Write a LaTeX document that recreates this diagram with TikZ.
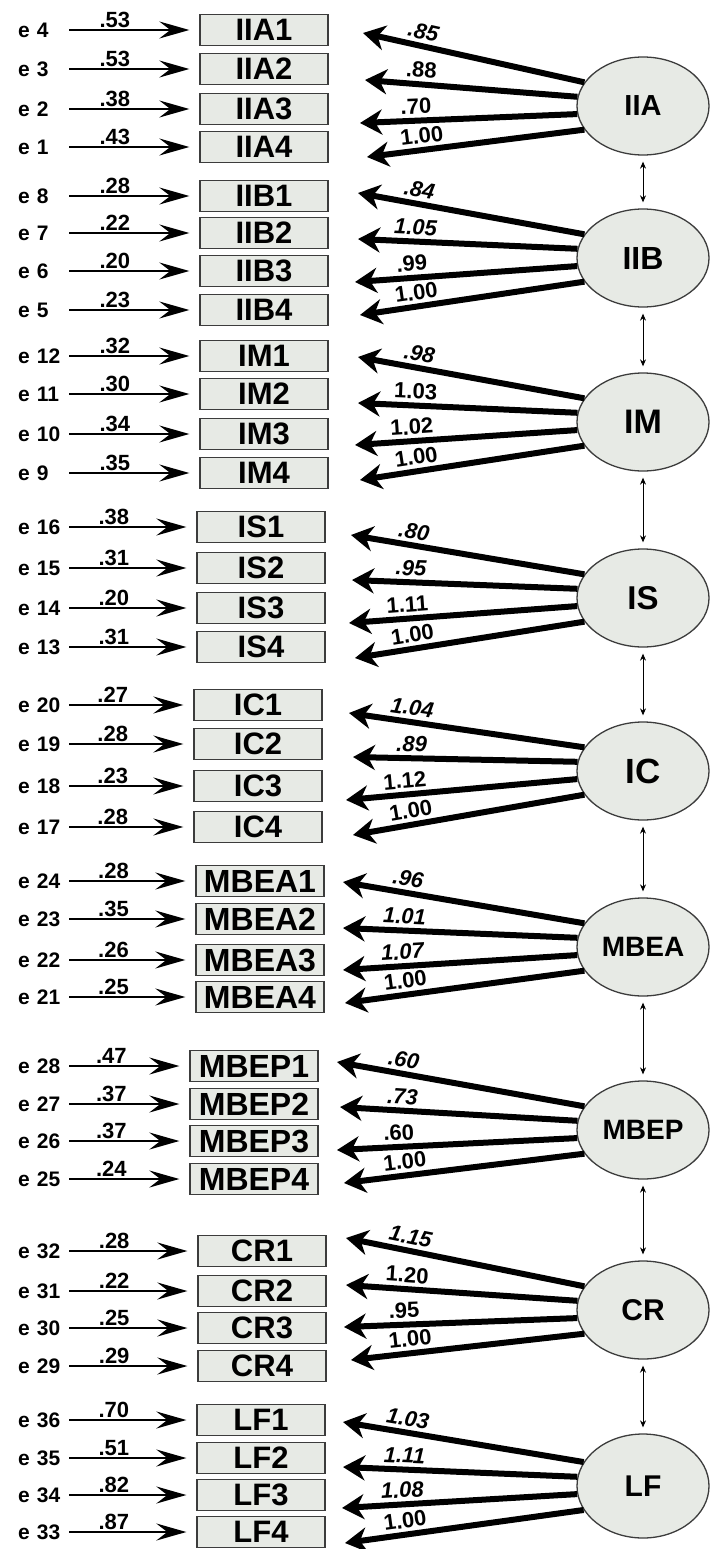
\documentclass[tikz,border=0pt]{standalone}
\usepackage{fontspec}
\setmainfont{Liberation Sans}
\usepackage{tikz}
\usetikzlibrary{positioning,calc,shapes.geometric}
\usetikzlibrary{arrows.meta}
\definecolor{boxfill}{RGB}{231,234,229}
\definecolor{boxline}{RGB}{60,60,60}

\begin{document}
\begin{tikzpicture}[x=1pt,y=-1pt,
    fsize/.style={font=\bfseries\fontsize{#1}{#1}\selectfont},
    item/.style={rectangle,draw=boxline,line width=1.3pt,fill=boxfill,minimum width=128pt,minimum height=31pt,inner sep=0pt,fsize=31},
    factor/.style={ellipse,draw=boxline,line width=1.3pt,fill=boxfill,minimum width=132pt,minimum height=98pt,inner sep=0pt},
    errlab/.style={anchor=west,text width=51pt,align=left,inner sep=0pt,fsize=21},
    num/.style={inner sep=1pt,fsize=22},
    err/.style={draw,line width=2.2pt,-{Stealth[length=30pt,width=17pt,inset=11pt]},shorten >=10pt},
    load/.style={draw,line width=6pt,-{Stealth[length=22pt,width=25pt,inset=7pt]}},
    corr/.style={draw,line width=1pt,{Stealth[length=7pt,width=6pt]}-{Stealth[length=7pt,width=6pt]},shorten <=6pt,shorten >=6pt}]
\useasboundingbox (0,0) rectangle (710,1549);

% IIA
\node[factor,fsize=29] (IIA) at (643,106) {IIA};
\foreach \i/\y/\e/\v/\tx/\ty/\l in {1/30/4/.53/363/33/\textit{.85},2/69/3/.53/365/80/.88,3/109/2/.38/360/123/.70,4/147/1/.43/367/157/1.00}{
    \node[item] (IIA\i) at (264,\y) {IIA\i};
    \node[errlab] (e\e) at (18,\y) {e \e};
    \draw[err] (e\e) -- (IIA\i) node[num,pos=.35,above] {\v};
    \coordinate (IIA t\i) at (\tx,\ty);
    \pgfmathtruncatemacro\a{158+14.7*(\i-1)}
    \draw[load] (IIA.\a) -- (IIA t\i) node[num,pos=.74,sloped,above=2.5pt] {\l};
}

% IIB
\node[factor,fsize=32] (IIB) at (643,258) {IIB};
\foreach \i/\y/\e/\v/\tx/\ty/\l in {1/196/8/.28/358/193/\textit{.84},2/233/7/.22/358/239/\textit{1.05},3/271/6/.20/355/282/.99,4/310/5/.23/360/315/1.00}{
    \node[item] (IIB\i) at (264,\y) {IIB\i};
    \node[errlab] (e\e) at (18,\y) {e \e};
    \draw[err] (e\e) -- (IIB\i) node[num,pos=.35,above] {\v};
    \coordinate (IIB t\i) at (\tx,\ty);
    \pgfmathtruncatemacro\a{158+14.7*(\i-1)}
    \draw[load] (IIB.\a) -- (IIB t\i) node[num,pos=.74,sloped,above=2.5pt] {\l};
}

% IM
\node[factor,fsize=34] (IM) at (643,422) {IM};
\foreach \i/\y/\e/\v/\tx/\ty/\l in {1/356/12/.32/358/357/\textit{.98},2/394/11/.30/358/403/1.03,3/434/10/.34/355/445/1.02,4/473/9/.35/360/480/1.00}{
    \node[item] (IM\i) at (264,\y) {IM\i};
    \node[errlab] (e\e) at (18,\y) {e \e};
    \draw[err] (e\e) -- (IM\i) node[num,pos=.35,above] {\v};
    \coordinate (IM t\i) at (\tx,\ty);
    \pgfmathtruncatemacro\a{158+14.7*(\i-1)}
    \draw[load] (IM.\a) -- (IM t\i) node[num,pos=.74,sloped,above=2.5pt] {\l};
}

% IS
\node[factor,fsize=33] (IS) at (643,598) {IS};
\foreach \i/\y/\e/\v/\tx/\ty/\l in {1/527/16/.38/351/535/\textit{.80},2/568/15/.31/352/580/\textit{.95},3/608/14/.20/349/623/1.11,4/647/13/.31/355/658/1.00}{
    \node[item] (IS\i) at (261,\y) {IS\i};
    \node[errlab] (e\e) at (18,\y) {e \e};
    \draw[err] (e\e) -- (IS\i) node[num,pos=.35,above] {\v};
    \coordinate (IS t\i) at (\tx,\ty);
    \pgfmathtruncatemacro\a{158+14.7*(\i-1)}
    \draw[load] (IS.\a) -- (IS t\i) node[num,pos=.74,sloped,above=2.5pt] {\l};
}

% IC
\node[factor,fsize=35] (IC) at (643,771) {IC};
\foreach \i/\y/\e/\v/\tx/\ty/\l in {1/705/20/.27/349/713/\textit{1.04},2/744/19/.28/353/757/\textit{.89},3/786/18/.23/346/800/1.12,4/827/17/.28/353/835/1.00}{
    \node[item] (IC\i) at (258,\y) {IC\i};
    \node[errlab] (e\e) at (18,\y) {e \e};
    \draw[err] (e\e) -- (IC\i) node[num,pos=.35,above] {\v};
    \coordinate (IC t\i) at (\tx,\ty);
    \pgfmathtruncatemacro\a{158+14.7*(\i-1)}
    \draw[load] (IC.\a) -- (IC t\i) node[num,pos=.74,sloped,above=2.5pt] {\l};
}

% MBEA
\node[factor,fsize=28] (MBEA) at (643,947) {MBEA};
\foreach \i/\y/\e/\v/\tx/\ty/\l in {1/881/24/.28/343/882/\textit{.96},2/919/23/.35/343/928/\textit{1.01},3/960/22/.26/343/970/\textit{1.07},4/997/21/.25/345/1003/1.00}{
    \node[item,fsize=32] (MBEA\i) at (260,\y) {MBEA\i};
    \node[errlab] (e\e) at (18,\y) {e \e};
    \draw[err] (e\e) -- (MBEA\i) node[num,pos=.35,above] {\v};
    \coordinate (MBEA t\i) at (\tx,\ty);
    \pgfmathtruncatemacro\a{158+14.7*(\i-1)}
    \draw[load] (MBEA.\a) -- (MBEA t\i) node[num,pos=.74,sloped,above=2.5pt] {\l};
}

% MBEP
\node[factor,fsize=28] (MBEP) at (643,1130) {MBEP};
\foreach \i/\y/\e/\v/\tx/\ty/\l in {1/1066/28/.47/337/1062/\textit{.60},2/1104/27/.37/340/1107/\textit{.73},3/1141/26/.37/337/1150/.60,4/1179/25/.24/344/1183/1.00}{
    \node[item,fsize=32] (MBEP\i) at (254,\y) {MBEP\i};
    \node[errlab] (e\e) at (18,\y) {e \e};
    \draw[err] (e\e) -- (MBEP\i) node[num,pos=.35,above] {\v};
    \coordinate (MBEP t\i) at (\tx,\ty);
    \pgfmathtruncatemacro\a{158+14.7*(\i-1)}
    \draw[load] (MBEP.\a) -- (MBEP t\i) node[num,pos=.74,sloped,above=2.5pt] {\l};
}

% CR
\node[factor,fsize=30] (CR) at (643,1310) {CR};
\foreach \i/\y/\e/\v/\tx/\ty/\l in {1/1251/32/.28/346/1238/\textit{1.15},2/1291/31/.22/346/1285/1.20,3/1328/30/.25/344/1327/.95,4/1366/29/.29/351/1360/1.00}{
    \node[item] (CR\i) at (262,\y) {CR\i};
    \node[errlab] (e\e) at (18,\y) {e \e};
    \draw[err] (e\e) -- (CR\i) node[num,pos=.35,above] {\v};
    \coordinate (CR t\i) at (\tx,\ty);
    \pgfmathtruncatemacro\a{158+14.7*(\i-1)}
    \draw[load] (CR.\a) -- (CR t\i) node[num,pos=.74,sloped,above=2.5pt] {\l};
}

% LF
\node[factor,fsize=30,minimum height=104pt] (LF) at (643,1486) {LF};
\foreach \i/\y/\e/\v/\tx/\ty/\l in {1/1420/36/.70/343/1422/\textit{1.03},2/1458/35/.51/343/1467/\textit{1.11},3/1495/34/.82/342/1508/\textit{1.08},4/1532/33/.87/345/1543/1.00}{
    \node[item] (LF\i) at (261,\y) {LF\i};
    \node[errlab] (e\e) at (18,\y) {e \e};
    \draw[err] (e\e) -- (LF\i) node[num,pos=.35,above] {\v};
    \coordinate (LF t\i) at (\tx,\ty);
    \pgfmathtruncatemacro\a{158+14.7*(\i-1)}
    \draw[load] (LF.\a) -- (LF t\i) node[num,pos=.74,sloped,above=2.5pt] {\l};
}

% covariances
\foreach \p/\q in {IIA/IIB,IIB/IM,IM/IS,IS/IC,IC/MBEA,MBEA/MBEP,MBEP/CR,CR/LF}
    \draw[corr] (\p) -- (\q);
\end{tikzpicture}
\end{document}
